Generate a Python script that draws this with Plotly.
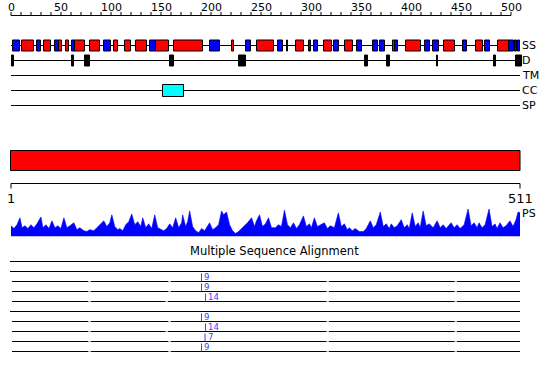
import plotly.graph_objects as go

# ---------------- data ----------------
ruler_labels = [0, 50, 100, 150, 200, 250, 300, 350, 400, 450, 500]
ruler_ticks = list(range(0, 501, 10))
seq_len = 511
track_names = ["SS", "D", "TM", "CC", "SP"]

helix = [(10, 22), (32, 39), (47, 50), (54, 57), (63, 73), (78, 88), (102, 106),
         (113, 119), (124, 135), (144, 157), (162, 191), (220, 222), (245, 262),
         (275, 276), (284, 292), (312, 320), (333, 341), (381, 383), (394, 409),
         (432, 443), (464, 471), (486, 497)]
strand = [(1, 8), (25, 29), (43, 47), (60, 63), (92, 99), (138, 144), (198, 208),
          (234, 239), (266, 271), (297, 299), (302, 306), (322, 327), (345, 350),
          (361, 366), (368, 373), (383, 386), (413, 418), (421, 427), (451, 455),
          (473, 478), (497, 502), (503, 505), (506, 508)]
disorder = [(0, 2), (60, 62), (73, 78), (158, 162), (227, 234), (353, 356),
            (375, 378), (425, 426), (482, 484), (504, 510)]
coiled_coil = [(151, 172)]

ps_res = [1, 4, 7, 10, 12, 15, 18, 21, 24, 27, 31, 33, 36, 39, 42, 45, 48, 51, 54, 57,
          60, 64, 67, 70, 74, 77, 80, 84, 87, 90, 94, 97, 100, 102, 105, 108, 110, 113,
          116, 119, 122, 125, 128, 131, 133, 136, 139, 142, 145, 148, 151, 154, 157, 160,
          163, 166, 169, 172, 173, 176, 178, 180, 183, 186, 189, 192, 195, 198, 200, 203,
          206, 209, 212, 214, 217, 220, 223, 226, 229, 232, 235, 238, 242, 245, 247, 250,
          253, 256, 259, 262, 266, 269, 272, 275, 278, 281, 284, 287, 290, 294, 297, 300,
          302, 305, 308, 311, 315, 318, 321, 325, 329, 332, 335, 338, 340, 343, 346, 350,
          354, 357, 361, 364, 367, 371, 374, 377, 380, 382, 385, 388, 392, 395, 398, 400,
          403, 406, 409, 411, 414, 417, 420, 424, 428, 431, 434, 437, 442, 445, 448, 451,
          455, 459, 462, 465, 468, 470, 473, 476, 480, 483, 486, 488, 491, 494, 497, 501,
          504, 507, 509, 511]
ps_val = [0.39, 0.29, 0.43, 0.68, 0.32, 0.39, 0.29, 0.43, 0.32, 0.46, 0.71, 0.32, 0.43,
          0.29, 0.57, 0.32, 0.39, 0.29, 0.68, 0.32, 0.39, 0.50, 0.25, 0.32, 0.21, 0.18,
          0.25, 0.21, 0.32, 0.43, 0.57, 0.36, 0.50, 0.79, 0.36, 0.25, 0.29, 0.21, 0.43,
          0.54, 0.82, 0.43, 0.54, 0.36, 0.68, 0.32, 0.46, 0.29, 0.79, 0.32, 0.25, 0.21,
          0.29, 0.46, 0.32, 0.68, 0.32, 0.50, 0.79, 0.36, 0.54, 0.93, 0.36, 0.21, 0.14,
          0.29, 0.21, 0.36, 0.50, 0.25, 0.32, 0.43, 0.93, 0.79, 0.89, 0.43, 0.21, 0.11,
          0.18, 0.29, 0.39, 0.50, 0.68, 0.36, 0.57, 0.79, 0.36, 0.46, 0.68, 0.32, 0.32,
          0.43, 0.36, 0.96, 0.43, 0.32, 0.50, 0.29, 0.43, 0.75, 0.36, 0.46, 0.32, 0.68,
          0.36, 0.43, 0.50, 0.29, 0.39, 0.32, 0.86, 0.36, 0.46, 0.25, 0.32, 0.21, 0.29,
          0.18, 0.18, 0.29, 0.57, 0.32, 0.43, 0.89, 0.36, 0.46, 0.29, 0.46, 0.32, 0.39,
          0.61, 0.32, 0.43, 0.29, 0.86, 0.36, 0.50, 0.32, 0.93, 0.39, 0.46, 0.32, 0.57,
          0.32, 0.43, 0.29, 0.50, 0.32, 0.43, 0.29, 0.43, 1.00, 0.39, 0.50, 0.32, 0.50,
          0.32, 0.43, 1.00, 0.36, 0.46, 0.29, 0.50, 0.32, 0.39, 0.57, 0.36, 0.61, 0.89,
          0.86]

msa_title = "Multiple Sequence Alignment"
msa_gapped = [False, False, True, True, True, False, True, True, True, True]
msa_gap_pos = [79.7, 159.9, 318.3, 446.6]
msa_gap_alt = [False, False, False, False, True, False, False, True, False, False]
hit_rows = [2, 3, 4, 6, 7, 8, 9]
hit_pos = [191.9, 191.9, 195.9, 191.9, 195.9, 195.4, 191.9]
hit_labels = ["9", "9", "14", "9", "14", "7", "9"]

# ---------------- layout constants ----------------
W, H = 550, 380
X0 = 11                     # pixel of residue 0 on the ruler
Y_RULER = 15.5
TRACK_Y = [45.5, 60.5, 75.5, 90.5, 105.5]
BOX_H = [5.5, 5.5, 0, 6, 0]
FONT = "DejaVu Sans"
BAR_Y0, BAR_Y1 = 150.5, 170.5
AX2_Y = 183.5
PS_BASE, PS_TOP = 236.5, 209
MSA_Y0, MSA_DY = 261.5, 10
BLUE = "#3c3cff"

fig = go.Figure()
shapes = []
annotations = []

def lines_trace(xs, ys, xaxis="x", yaxis="y", color="black", width=1):
    fig.add_trace(go.Scatter(x=xs, y=ys, mode="lines", xaxis=xaxis, yaxis=yaxis,
                             line=dict(color=color, width=width),
                             hoverinfo="skip", showlegend=False))

# ---- top ruler ----
xs, ys = [ruler_ticks[0], ruler_ticks[-1], None], [Y_RULER, Y_RULER, None]
for t in ruler_ticks:
    xs += [t, t, None]
    ys += [Y_RULER - 3.5, Y_RULER, None]
lines_trace(xs, ys)
for t in ruler_labels:
    annotations.append(dict(x=t, y=7, text=str(t), showarrow=False, xref="x", yref="y",
                            font=dict(family=FONT, size=11, color="black"),
                            xanchor="center", yanchor="middle"))

# ---- tracks ----
end_res = seq_len - 2
xs, ys = [], []
for ty in TRACK_Y:
    xs += [0, end_res, None]
    ys += [ty, ty, None]
lines_trace(xs, ys)
for name, ty in zip(track_names, TRACK_Y):
    annotations.append(dict(x=end_res, y=ty, text=name, showarrow=False, xref="x",
                            yref="y", font=dict(family=FONT, size=11, color="black"),
                            xanchor="left", yanchor="middle"))

def boxes(segs, ty, h, fill):
    for a, b in segs:
        shapes.append(dict(type="rect", xref="x", yref="y", x0=a + 0.5, x1=b + 0.5,
                           y0=ty - h, y1=ty + h, fillcolor=fill,
                           line=dict(color="black", width=1)))

boxes(helix, TRACK_Y[0], BOX_H[0], "#ff0000")
boxes(strand, TRACK_Y[0], BOX_H[0], "#0000ff")
boxes(disorder, TRACK_Y[1], BOX_H[1], "#000000")
boxes(coiled_coil, TRACK_Y[3], BOX_H[3], "#00ffff")

# ---- bottom overview (x2 axis: residue 1 -> px 11, 511 -> px 520) ----
sc = (seq_len - 1) / 509.0
x2_lo = 1 - 11 * sc
x2_hi = x2_lo + W * sc
shapes.append(dict(type="rect", xref="x2", yref="y", x0=0.5, x1=seq_len, y0=BAR_Y0,
                   y1=BAR_Y1, fillcolor="#ff0000", line=dict(color="black", width=1)))
lines_trace([1, seq_len, None, 1, 1, None, seq_len, seq_len],
            [AX2_Y, AX2_Y, None, AX2_Y, AX2_Y + 5, None, AX2_Y, AX2_Y + 5], xaxis="x2")
annotations.append(dict(x=1, y=198, text="1", showarrow=False, xref="x2", yref="y",
                        font=dict(family=FONT, size=13, color="black"),
                        xanchor="center", yanchor="middle"))
annotations.append(dict(x=seq_len, y=198, text=str(seq_len), showarrow=False, xref="x2",
                        yref="y", font=dict(family=FONT, size=13, color="black"),
                        xanchor="center", yanchor="middle"))

# PS profile
fig.add_trace(go.Scatter(x=ps_res, y=ps_val, mode="lines", fill="tozeroy",
                         xaxis="x2", yaxis="y2", line=dict(color="#0000ff", width=0.6),
                         fillcolor="#0000ff", hoverinfo="skip", showlegend=False))
annotations.append(dict(x=seq_len, y=213, text="PS", showarrow=False, xref="x2",
                        yref="y", font=dict(family=FONT, size=11, color="black"),
                        xanchor="left", yanchor="middle"))

# ---- MSA ----
annotations.append(dict(x=263.5, y=250.5, xref="x", yref="y",
                        text=msa_title, showarrow=False,
                        font=dict(family=FONT, size=11.5, color="black"),
                        xanchor="center", yanchor="middle"))
xs, ys, gx, gy = [], [], [], []
for i in range(len(msa_gapped)):
    y = MSA_Y0 + i * MSA_DY
    if not msa_gapped[i]:
        xs += [0, seq_len, None]
        ys += [y, y, None]
        continue
    gaps = list(msa_gap_pos)
    if msa_gap_alt[i]:
        gaps[1] -= 3
    start = 2
    for g in gaps:
        xs += [start, g - 1, None]
        ys += [y, y, None]
        gx += [g, g, None]
        gy += [y - 0.5, y + 0.5, None]
        start = g + 1
    xs += [start, seq_len, None]
    ys += [y, y, None]
lines_trace(xs, ys, xaxis="x2")
lines_trace(gx, gy, xaxis="x2", color="#c8c8c8", width=2)

bx, by = [], []
for r, p, lab in zip(hit_rows, hit_pos, hit_labels):
    y = MSA_Y0 + r * MSA_DY
    bx += [p, p, None]
    by += [y - 8, y, None]
    annotations.append(dict(x=p + 0.8, y=y - 5, text=lab, showarrow=False, xref="x2",
                            yref="y", font=dict(family=FONT, size=8.5, color=BLUE),
                            xanchor="left", yanchor="middle"))
lines_trace(bx, by, xaxis="x2", color=BLUE, width=1)

# ---- layout ----
d_lo = (H - PS_BASE) / H
d_hi = (H - PS_TOP) / H
fig.update_layout(
    width=W, height=H, margin=dict(l=0, r=0, t=0, b=0),
    paper_bgcolor="white", plot_bgcolor="white", showlegend=False,
    xaxis=dict(range=[-X0, W - X0], visible=False, fixedrange=True),
    yaxis=dict(range=[H, 0], visible=False, fixedrange=True),
    xaxis2=dict(range=[x2_lo, x2_hi], visible=False, overlaying="x", anchor="y2",
                fixedrange=True),
    yaxis2=dict(range=[0, 1], domain=[d_lo, d_hi], visible=False, anchor="x2",
                fixedrange=True),
    shapes=shapes, annotations=annotations,
)
fig.write_html("out.html")
